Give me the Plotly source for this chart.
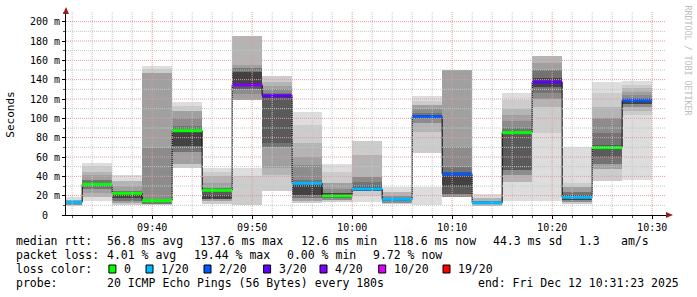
import plotly.graph_objects as go
import pandas as pd

# ---------------- data ----------------
bar_start = [
    "2025-12-12 09:30:00", "2025-12-12 09:33:00", "2025-12-12 09:36:00", "2025-12-12 09:39:00",
    "2025-12-12 09:42:00", "2025-12-12 09:45:00", "2025-12-12 09:48:00", "2025-12-12 09:51:00",
    "2025-12-12 09:54:00", "2025-12-12 09:57:00", "2025-12-12 10:00:00", "2025-12-12 10:03:00",
    "2025-12-12 10:06:00", "2025-12-12 10:09:00", "2025-12-12 10:12:00", "2025-12-12 10:15:00",
    "2025-12-12 10:18:00", "2025-12-12 10:21:00", "2025-12-12 10:24:00", "2025-12-12 10:27:00",
]
median_ms = [13.1, 31.7, 22.4, 14.8, 87.2, 25.5, 134.5, 123.4, 32.8, 19.7,
             26.9, 16.2, 101.7, 42.4, 12.6, 85.2, 137.6, 18.3, 69.7, 118.6]
loss_count = [1, 0, 0, 0, 0, 0, 4, 3, 1, 0, 1, 1, 2, 2, 1, 0, 3, 1, 0, 2]

# smoke bands per step: boundaries (ms) and smoke density level (0 = none, 8 = densest)
smoke_edges = [
    [10, 11, 13, 16, 19],
    [14, 19, 23, 27, 30, 33, 36, 41, 45, 51, 54],
    [10.5, 12, 15, 18, 22, 25, 30, 35, 41],
    [10.5, 12, 13.5, 16, 69, 147, 151, 154.5],
    [48.3, 53, 65, 71, 86, 88, 92, 100, 108, 113, 117],
    [11.4, 14, 17, 21, 25.5, 28, 33, 40, 45, 49],
    [10.3, 40, 48.3, 119, 125, 130, 136, 148, 152, 155, 185.2],
    [25, 41.4, 48.3, 70.7, 74, 121, 123.4, 126, 130, 133, 138, 143.8],
    [12.7, 15, 18, 21, 31, 33, 36, 52, 60, 74, 93, 106.2],
    [13.8, 16, 18, 20, 23, 27, 33, 45, 52.8],
    [13.8, 20, 25, 27, 30, 34, 39.7, 62, 76.5],
    [11.4, 13, 15, 17, 20, 24, 29.3],
    [10.3, 29, 64, 86, 95, 100, 103, 106, 110, 114, 118, 123],
    [18.3, 22, 30, 42.4, 45, 50, 70.7, 150],
    [10.3, 11.5, 13, 15, 18, 21.7],
    [14.8, 34.5, 41, 46.5, 85.2, 89.7, 97, 103, 110, 119, 126.6],
    [14.8, 84.5, 112, 120, 126, 132, 142, 150, 157, 164.8],
    [11.4, 13, 16, 21, 24, 29, 32.8, 70.7],
    [35.5, 48, 53, 60, 72, 85, 100, 112, 126, 138],
    [36.2, 103, 108, 112, 115, 118.3, 121, 124, 127, 131, 134, 138.6],
]
smoke_levels = [
    [2, 5, 4, 1],
    [1, 3, 4, 6, 8, 6, 4, 3, 2, 1],
    [2, 4, 6, 8, 6, 4, 3, 1],
    [2, 6, 7, 5, 4, 2, 1],
    [2, 4, 6, 8, 8, 6, 5, 4, 2, 1],
    [2, 4, 8, 7, 6, 4, 3, 2, 1],
    [2, 1, 0, 4, 5, 7, 8, 6, 4, 3],
    [2, 3, 4, 6, 7, 8, 6, 5, 4, 3, 2],
    [2, 4, 6, 8, 8, 6, 5, 4, 3, 2, 1],
    [2, 5, 7, 8, 5, 4, 2, 1],
    [1, 2, 8, 7, 6, 5, 3, 2],
    [2, 5, 8, 5, 3, 1],
    [1, 0, 2, 3, 5, 8, 6, 5, 4, 2, 1],
    [5, 7, 8, 7, 6, 5, 4],
    [3, 6, 6, 3, 1],
    [1, 3, 5, 7, 6, 5, 4, 3, 2, 1],
    [1, 2, 3, 5, 6, 8, 6, 4, 3],
    [2, 5, 8, 6, 4, 2, 1],
    [2, 4, 6, 7, 6, 5, 3, 2, 1],
    [1, 2, 3, 5, 8, 6, 5, 4, 3, 2, 1],
]

y_ticks = [0, 20, 40, 60, 80, 100, 120, 140, 160, 180, 200]
y_tick_text = ["0\u00a0\u00a0", "20 m", "40 m", "60 m", "80 m", "100 m",
               "120 m", "140 m", "160 m", "180 m", "200 m"]

loss_legend_steps = [0, 1, 2, 3, 4, 10, 19]
loss_legend_labels = ["0", "1/20", "2/20", "3/20", "4/20", "10/20", "19/20"]

rtt_stats = ["56.8", "137.6", "12.6", "118.6", "44.3", "1.3"]
loss_stats = ["4.01", "19.44", "0.00", "9.72"]
probe_text = "20 ICMP Echo Pings (56 Bytes) every 180s"
end_text = "end: Fri Dec 12 10:31:23 2025"

# ---------------- styles ----------------
smoke_gray = {1: "#dddddd", 2: "#cccccc", 3: "#b4b4b4", 4: "#a0a0a0",
              5: "#8c8c8c", 6: "#737373", 7: "#5a5a5a", 8: "#424242"}
loss_color = {0: "#00ff00", 1: "#00b8ff", 2: "#0059ff", 3: "#5e00ff",
              4: "#7e00ff", 10: "#dd00ff", 19: "#ff0000"}
MONO = "DejaVu Sans Mono"

step = pd.Timedelta(seconds=180)
starts = pd.to_datetime(bar_start)
centers = starts + step / 2
ends = starts + step

fig = go.Figure()

# smoke
for lvl in range(1, 9):
    xs, bases, hs = [], [], []
    for i in range(len(starts)):
        e = smoke_edges[i]
        for j, lv in enumerate(smoke_levels[i]):
            if lv == lvl:
                xs.append(centers[i])
                bases.append(e[j])
                hs.append(e[j + 1] - e[j])
    fig.add_trace(go.Bar(x=xs, y=hs, base=bases, width=180000,
                         marker=dict(color=smoke_gray[lvl], line=dict(width=0)),
                         hoverinfo="skip", showlegend=False))

# black median step line
sx = list(starts) + [ends[-1]]
sy = list(median_ms) + [median_ms[-1]]
fig.add_trace(go.Scatter(x=sx, y=sy, mode="lines", line=dict(color="#000000", width=1, shape="hv"),
                         hoverinfo="skip", showlegend=False))

# loss coloured median segments
for lc in sorted(set(loss_count)):
    xs, ys = [], []
    for i in range(len(starts)):
        if loss_count[i] == lc:
            xs += [starts[i], ends[i], None]
            ys += [median_ms[i], median_ms[i], None]
    fig.add_trace(go.Scatter(x=xs, y=ys, mode="lines", line=dict(color=loss_color[lc], width=3),
                             hoverinfo="skip", showlegend=False))

# grid on top (rrdtool style)
shapes = []
for v in range(10, 210, 10):
    major = v % 20 == 0
    shapes.append(dict(type="line", xref="paper", x0=0, x1=1, yref="y", y0=v, y1=v,
                       line=dict(color="#e49a9a" if major else "#c4c4c4", width=1, dash="1px,1px"),
                       layer="above"))
gt = pd.Timestamp("2025-12-12 09:32:00")
while gt <= pd.Timestamp("2025-12-12 10:30:00"):
    major = gt.minute % 10 == 0
    shapes.append(dict(type="line", xref="x", x0=gt, x1=gt, yref="paper", y0=0, y1=1,
                       line=dict(color="#e49a9a" if major else "#c4c4c4", width=1, dash="1px,1px"),
                       layer="above"))
    gt += pd.Timedelta(minutes=2)

ML, MR, MT, MB = 66, 31, 12, 82
PW, PH = 697 - ML - MR, 297 - MT - MB


def px(x):
    return (x - ML) / PW


def py(y):
    return (MT + PH - y) / PH


# arrows
shapes.append(dict(type="path", xref="paper", yref="paper",
                   path=f"M {px(63)},{py(14)} L {px(69)},{py(14)} L {px(66)},{py(7)} Z",
                   fillcolor="#9b1c1c", line=dict(width=0), layer="above"))
shapes.append(dict(type="path", xref="paper", yref="paper",
                   path=f"M {px(666)},{py(212)} L {px(666)},{py(218)} L {px(673)},{py(215)} Z",
                   fillcolor="#9b1c1c", line=dict(width=0), layer="above"))

annotations = []


def text(s, x, y, size=11.5, color="#000000"):
    annotations.append(dict(text=s, xref="paper", yref="paper", x=px(x - 2), y=py(y),
                            xanchor="left", yanchor="middle", showarrow=False,
                            font=dict(family=MONO, size=size, color=color)))


# legend lines
y1, y2, y3, y4 = 241, 255, 269, 283
text("median rtt:", 16, y1)
text(f"{rtt_stats[0]} ms avg", 107.3, y1)
text(f"{rtt_stats[1]} ms max", 200, y1)
text(f"{rtt_stats[2]} ms min", 301, y1)
text(f"{rtt_stats[3]} ms now", 393.3, y1)
text(f"{rtt_stats[4]} ms sd", 492.7, y1)
text(rtt_stats[5], 579.3, y1)
text("am/s", 621, y1)
text("packet loss:", 16, y2)
text(f"{loss_stats[0]} % avg", 107.3, y2)
text(f"{loss_stats[1]} % max", 194, y2)
text(f"{loss_stats[2]} % min", 286.7, y2)
text(f"{loss_stats[3]} % now", 372.7, y2)
text("loss color:", 16, y3)
sq_x = [108.9, 146.0, 204.0, 263.6, 320.0, 378.7, 443.0]
for k, step_k in enumerate(loss_legend_steps):
    shapes.append(dict(type="rect", xref="paper", yref="paper",
                       x0=px(sq_x[k]), x1=px(sq_x[k] + 7), y0=py(273), y1=py(265),
                       fillcolor=loss_color[step_k], line=dict(color="#000000", width=1)))
    text(loss_legend_labels[k], sq_x[k] + 15, y3)
text("probe:", 16, y4)
text(probe_text, 107.3, y4)
text(end_text, 478.3, y4)

# y axis title
annotations.append(dict(text="Seconds", xref="paper", yref="paper", x=px(10.7), y=py(115),
                        textangle=-90, showarrow=False, xanchor="center", yanchor="middle",
                        font=dict(family=MONO, size=11, color="#000000")))
# watermark
annotations.append(dict(text="RRDTOOL / TOBI OETIKER", xref="paper", yref="paper",
                        x=px(687.5), y=py(60), textangle=90, showarrow=False,
                        xanchor="center", yanchor="middle",
                        font=dict(family=MONO, size=8.3, color="#bdbdbd")))

fig.update_layout(
    width=697, height=297,
    margin=dict(l=ML, r=MR, t=MT, b=MB, autoexpand=False),
    paper_bgcolor="#ffffff", plot_bgcolor="#ffffff",
    barmode="overlay", bargap=0,
    showlegend=False,
    shapes=shapes, annotations=annotations,
    xaxis=dict(type="date", range=["2025-12-12 09:31:23", "2025-12-12 10:31:23"],
               tick0="2025-12-12 09:40:00", dtick=600000, tickformat="%H:%M",
               showgrid=False, zeroline=False, showline=True, linecolor="#000000", linewidth=1,
               ticks="outside", ticklen=3, tickcolor="#000000",
               minor=dict(dtick=120000, tick0="2025-12-12 09:32:00", ticks="outside", ticklen=2,
                          tickcolor="#555555", showgrid=False),
               tickfont=dict(family=MONO, size=10, color="#000000"),
               layer="above traces", fixedrange=True),
    yaxis=dict(range=[0, 210], tickvals=y_ticks, ticktext=y_tick_text,
               showgrid=False, zeroline=False, showline=True, linecolor="#000000", linewidth=1,
               ticks="outside", ticklen=3, tickcolor="#000000",
               minor=dict(dtick=10, ticks="outside", ticklen=2, tickcolor="#555555", showgrid=False),
               tickfont=dict(family=MONO, size=10, color="#000000"),
               layer="above traces", fixedrange=True),
)

fig.write_html("out.html")
